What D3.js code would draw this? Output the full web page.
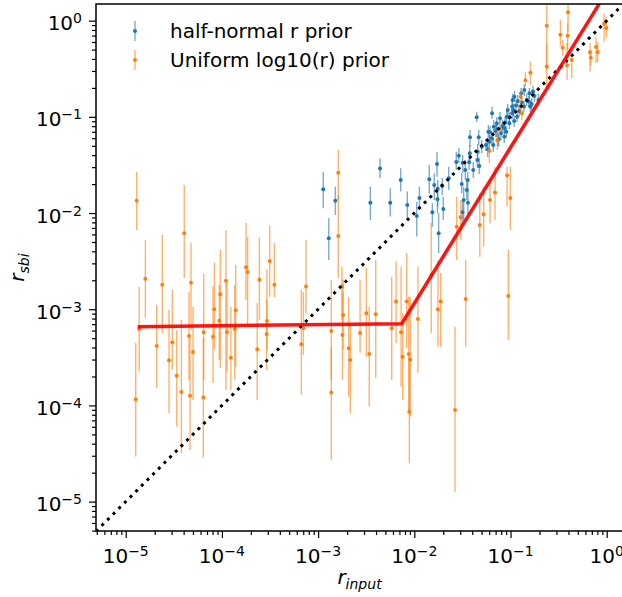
<!DOCTYPE html>
<html>
<head>
<meta charset="utf-8">
<script src="https://cdn.jsdelivr.net/npm/d3@7"></script>
<style>
  body { margin: 0; background: #fff; }
  svg { display: block; font-family: "DejaVu Sans", sans-serif; }
</style>
</head>
<body>
<div id="chart"></div>
<script>
'use strict';

// rows are [r_input, r_sbi, lower, upper]
const halfNormalRows = [
  [1.13e-3, 1.77e-2, 1.12e-2, 2.69e-2], [1.51e-3, 1.34e-2, 9.55e-3, 1.88e-2], [1.29e-3, 5.47e-3, 3.25e-3, 8.83e-3],
  [4.40e-3, 2.90e-2, 2.30e-2, 3.71e-2], [3.49e-3, 1.28e-2, 8.48e-3, 1.88e-2], [5.62e-3, 1.28e-2, 9.18e-3, 1.81e-2],
  [7.22e-3, 2.21e-2, 1.67e-2, 2.92e-2], [8.45e-3, 1.21e-2, 8.48e-3, 1.67e-2], [1.06e-2, 9.33e-3, 5.69e-3, 1.31e-2],
  [1.13e-2, 1.43e-2, 1.08e-2, 1.88e-2], [1.43e-2, 2.25e-2, 1.61e-2, 3.16e-2], [1.54e-2, 1.02e-2, 7.22e-3, 1.27e-2],
  [1.61e-2, 1.96e-2, 1.37e-2, 2.59e-2], [1.72e-2, 3.24e-2, 2.39e-2, 4.35e-2], [1.75e-2, 1.79e-2, 1.17e-2, 2.21e-2],
  [1.74e-2, 1.39e-2, 9.95e-3, 1.88e-2], [1.79e-2, 6.17e-3, 3.82e-3, 9.95e-3], [2.00e-2, 1.10e-2, 8.48e-3, 1.48e-2],
  [1.95e-2, 1.91e-2, 1.54e-2, 2.32e-2], [2.28e-2, 2.30e-2, 1.74e-2, 3.03e-2], [2.73e-2, 3.40e-2, 2.81e-2, 4.35e-2],
  [3.18e-2, 3.34e-2, 2.59e-2, 4.02e-2], [3.11e-2, 2.00e-2, 1.61e-2, 2.59e-2], [3.26e-2, 1.37e-2, 8.48e-3, 1.88e-2],
  [3.51e-2, 1.74e-2, 1.37e-2, 2.21e-2], [3.39e-2, 2.81e-2, 2.21e-2, 3.56e-2], [3.59e-2, 2.21e-2, 1.74e-2, 2.67e-2],
  [3.79e-2, 6.14e-2, 4.90e-2, 7.31e-2], [3.77e-2, 4.19e-2, 3.40e-2, 5.11e-2], [4.10e-2, 2.81e-2, 2.32e-2, 3.40e-2],
  [4.45e-2, 9.90e-2, 8.91e-2, 0.113], [4.56e-2, 4.35e-2, 3.56e-2, 5.23e-2], [4.52e-2, 3.56e-2, 2.94e-2, 4.32e-2],
  [4.74e-2, 3.09e-2, 2.55e-2, 3.74e-2], [5.79e-2, 4.61e-2, 3.83e-2, 5.48e-2], [5.88e-2, 7.02e-2, 6.04e-2, 8.24e-2],
  [6.43e-2, 0.109, 9.51e-2, 0.127], [6.62e-2, 5.11e-2, 4.32e-2, 6.04e-2], [6.38e-2, 6.00e-2, 5.11e-2, 7.13e-2],
  [7.19e-2, 7.31e-2, 6.18e-2, 8.65e-2], [2.90e-2, 3.95e-2, 3.32e-2, 4.75e-2], [3.16e-2, 1.02e-2, 7.35e-3, 1.37e-2],
  [3.61e-2, 1.28e-2, 9.55e-3, 1.74e-2], [3.71e-2, 3.37e-2, 2.81e-2, 4.11e-2], [4.67e-2, 6.14e-2, 5.11e-2, 7.31e-2],
  [5.02e-2, 4.90e-2, 4.21e-2, 5.75e-2], [6.12e-2, 6.92e-2, 5.89e-2, 8.04e-2], [7.02e-2, 7.13e-2, 6.18e-2, 8.24e-2],
  [7.54e-2, 5.85e-2, 4.90e-2, 6.80e-2], [8.22e-2, 8.04e-2, 6.97e-2, 9.29e-2], [8.77e-2, 8.71e-2, 7.48e-2, 9.98e-2],
  [7.96e-2, 6.76e-2, 5.75e-2, 7.85e-2], [9.04e-2, 7.02e-2, 6.04e-2, 8.04e-2], [9.72e-2, 9.90e-2, 8.65e-2, 0.112],
  [0.104, 0.109, 9.51e-2, 0.124], [0.109, 9.06e-2, 7.85e-2, 0.105], [0.117, 0.100, 8.85e-2, 0.115],
  [0.114, 0.131, 0.115, 0.150], [0.123, 0.115, 0.100, 0.133], [0.131, 0.141, 0.124, 0.161],
  [0.138, 0.128, 0.112, 0.146], [0.155, 0.144, 0.127, 0.165], [0.166, 0.136, 0.118, 0.157],
  [0.104, 0.128, 0.112, 0.146], [7.78e-2, 9.67e-2, 8.43e-2, 0.112], [7.19e-2, 8.58e-2, 7.31e-2, 9.98e-2],
  [9.35e-2, 0.118, 0.102, 0.136], [0.105, 0.150, 0.130, 0.173], [0.119, 0.146, 0.127, 0.169],
  [0.129, 0.176, 0.153, 0.200], [0.139, 0.190, 0.165, 0.220], [0.157, 0.176, 0.153, 0.200],
  [9.72e-2, 8.58e-2, 7.48e-2, 9.98e-2], [8.62e-2, 7.61e-2, 6.64e-2, 8.85e-2], [6.69e-2, 7.91e-2, 6.80e-2, 9.29e-2],
  [6.02e-2, 5.52e-2, 4.75e-2, 6.48e-2], [5.56e-2, 5.11e-2, 4.42e-2, 5.89e-2], [7.36e-2, 5.75e-2, 4.98e-2, 6.64e-2],
  [8.62e-2, 6.22e-2, 5.35e-2, 7.31e-2], [0.177, 0.165, 0.143, 0.190], [0.171, 0.183, 0.161, 0.210],
  [0.110, 0.162, 0.143, 0.186], [9.13e-2, 0.100, 8.85e-2, 0.115], [0.195, 0.150, 0.130, 0.173],
  [0.147, 0.150, 0.130, 0.173], [0.160, 0.128, 0.112, 0.146], [0.107, 0.118, 0.102, 0.136]
];

const uniformLogRows = [
  [1.30e-5, 1.34e-2, 6.67e-3, 2.69e-2], [1.27e-5, 1.16e-4, 2.94e-5, 4.47e-4], [1.38e-5, 6.24e-4, 2.25e-4, 1.71e-3],
  [1.60e-5, 2.07e-3, 8.12e-4, 5.25e-3], [2.40e-5, 1.80e-3, 5.67e-4, 5.92e-3], [2.10e-5, 4.16e-4, 1.52e-4, 1.11e-3],
  [3.05e-5, 4.54e-4, 2.34e-4, 1.59e-3], [2.82e-5, 2.95e-4, 8.36e-5, 9.84e-4], [3.39e-5, 2.04e-4, 6.02e-5, 6.09e-4],
  [3.79e-5, 1.38e-4, 3.21e-5, 7.74e-4], [4.06e-5, 6.17e-3, 2.11e-3, 1.96e-2], [4.77e-5, 1.89e-3, 6.09e-4, 4.92e-3],
  [4.55e-5, 5.28e-4, 1.84e-4, 1.52e-3], [4.66e-5, 1.26e-4, 3.45e-5, 5.03e-4], [5.01e-5, 3.60e-4, 1.14e-4, 1.06e-3],
  [6.41e-5, 1.21e-4, 2.85e-5, 5.03e-4], [6.47e-5, 5.77e-4, 1.84e-4, 2.33e-3], [8.08e-5, 5.19e-4, 1.71e-4, 1.72e-3],
  [8.34e-5, 1.00e-3, 3.78e-4, 3.05e-3], [9.62e-5, 1.43e-3, 2.45e-4, 4.13e-3], [9.40e-5, 7.60e-4, 2.97e-4, 1.79e-3],
  [1.10e-4, 1.98e-3, 1.45e-4, 6.67e-3], [1.13e-4, 5.81e-4, 2.18e-4, 2.02e-3], [1.24e-4, 3.14e-4, 1.45e-4, 1.06e-3],
  [1.36e-4, 6.24e-4, 1.84e-4, 1.79e-3], [1.39e-4, 9.77e-4, 2.53e-4, 2.88e-3], [1.78e-4, 2.73e-3, 1.25e-3, 7.89e-3],
  [1.85e-4, 2.44e-3, 6.87e-4, 5.65e-3], [2.45e-4, 2.02e-3, 7.74e-4, 5.51e-3], [2.33e-4, 3.84e-4, 1.14e-4, 1.16e-3],
  [3.14e-4, 3.18e-3, 1.35e-3, 7.35e-3], [3.51e-4, 1.80e-3, 1.34e-3, 4.89e-3], [2.94e-4, 7.55e-4, 3.78e-4, 2.60e-3],
  [2.92e-4, 5.54e-4, 2.34e-4, 1.25e-3], [7.48e-4, 1.72e-3, 9.16e-4, 5.25e-3], [6.69e-4, 4.33e-4, 1.29e-4, 1.59e-3],
  [7.02e-4, 6.34e-4, 3.35e-4, 1.51e-3], [1.37e-3, 5.94e-4, 1.84e-4, 2.02e-3], [1.37e-3, 1.36e-4, 2.71e-5, 4.08e-4],
  [1.77e-3, 1.73e-3, 7.74e-4, 2.77e-3], [1.82e-3, 8.72e-4, 3.78e-4, 2.02e-3], [1.79e-3, 5.41e-4, 1.84e-4, 1.48e-3],
  [2.08e-3, 3.93e-4, 1.23e-4, 1.35e-3], [2.16e-3, 2.97e-4, 8.30e-5, 7.21e-4], [2.73e-3, 5.67e-4, 3.52e-4, 2.02e-3],
  [3.17e-3, 9.08e-4, 3.21e-4, 2.69e-3], [3.40e-3, 3.43e-4, 9.72e-5, 1.06e-3], [3.97e-3, 8.87e-4, 1.93e-4, 3.25e-3],
  [5.82e-3, 6.34e-4, 1.84e-4, 2.17e-3], [6.46e-3, 1.20e-3, 4.47e-4, 3.13e-3], [7.28e-3, 5.77e-4, 1.57e-4, 2.77e-3],
  [7.57e-3, 3.21e-4, 1.14e-4, 9.16e-4], [8.34e-3, 1.20e-3, 3.96e-4, 3.85e-3], [8.75e-3, 3.43e-4, 8.36e-5, 1.35e-3],
  [9.08e-3, 2.99e-4, 7.65e-5, 1.35e-3], [8.87e-3, 8.61e-5, 2.51e-5, 3.21e-4], [1.09e-2, 7.93e-4, 2.18e-4, 2.77e-3],
  [1.50e-2, 2.27e-3, 5.67e-4, 7.89e-3], [1.76e-2, 1.00e-3, 4.08e-4, 3.25e-3], [1.88e-2, 1.20e-3, 4.08e-4, 2.38e-3],
  [2.65e-2, 8.97e-5, 1.27e-5, 6.59e-4], [3.42e-2, 1.28e-3, 4.08e-4, 3.25e-3], [9.49e-2, 1.37e-3, 4.80e-4, 4.13e-3],
  [6.02e-2, 4.45e-2, 3.32e-2, 4.90e-2], [7.29e-2, 5.75e-2, 4.53e-2, 7.31e-2], [6.12e-2, 1.37e-2, 7.83e-3, 2.21e-2],
  [6.90e-2, 1.64e-2, 8.48e-3, 3.03e-2], [5.26e-2, 9.72e-3, 4.48e-3, 1.88e-2], [4.79e-2, 7.52e-3, 3.52e-3, 1.62e-2],
  [3.03e-2, 9.04e-3, 5.25e-3, 1.37e-2], [2.76e-2, 7.22e-3, 3.25e-3, 1.48e-2], [9.20e-2, 2.47e-2, 1.17e-2, 3.03e-2],
  [9.95e-2, 1.43e-2, 6.67e-3, 3.03e-2], [1.62e-3, 2.63e-2, 1.37e-2, 4.53e-2], [1.62e-3, 5.78e-3, 2.11e-3, 1.54e-2],
  [0.238, 0.887, 0.307, 1.46], [0.238, 0.333, 0.206, 0.586], [0.161, 0.288, 0.215, 0.375],
  [0.143, 0.240, 0.206, 0.295], [0.128, 0.162, 0.141, 0.187], [0.126, 0.128, 0.111, 0.147],
  [0.131, 0.109, 0.0929, 0.130], [0.0765, 0.0754, 0.0618, 0.0929], [0.396, 1.22, 0.769, 1.46],
  [0.330, 0.715, 0.537, 1.02], [0.393, 0.698, 0.496, 0.946], [0.349, 0.524, 0.430, 0.630],
  [0.433, 0.390, 0.254, 0.440], [0.387, 0.344, 0.242, 0.586], [0.670, 0.470, 0.295, 0.586],
  [0.682, 0.412, 0.338, 0.496], [0.774, 0.533, 0.363, 0.682], [0.806, 0.473, 0.372, 0.601],
  [0.938, 0.931, 0.605, 1.19], [0.990, 0.839, 0.661, 1.07]
];

// broken power-law fit (red) and the 1:1 line
const fitX = [1.33e-5, 7.4e-3, 1.0];
const fitY = [6.59e-4, 7.08e-4, 2.0];
const oneToOne = [4.9e-6, 1.5];

const tickExponents = [-5, -4, -3, -2, -1, 0];
const seriesNames = ['half-normal r prior', 'Uniform log10(r) prior'];
const seriesColors = ['#1f77b4', '#ff7f0e'];

const width = 622, height = 597;
const plot = {left: 96, right: 623, top: 4, bottom: 531};

const x = d3.scaleLog().domain([4.91e-6, 1.476]).range([plot.left, plot.right]);
const y = d3.scaleLog().domain([4.95e-6, 1.49]).range([plot.bottom, plot.top]);

const svg = d3.select('#chart').append('svg')
  .attr('width', width)
  .attr('height', height);

svg.append('rect').attr('width', width).attr('height', height).attr('fill', '#fff');

svg.append('clipPath').attr('id', 'clip')
  .append('rect')
  .attr('x', plot.left).attr('y', plot.top)
  .attr('width', plot.right - plot.left).attr('height', plot.bottom - plot.top);

const body = svg.append('g').attr('clip-path', 'url(#clip)');

function drawSeries(rows, color) {
  const g = body.append('g');
  g.selectAll('line')
    .data(rows)
    .enter().append('line')
    .attr('x1', d => x(d[0])).attr('x2', d => x(d[0]))
    .attr('y1', d => y(d[2])).attr('y2', d => y(d[3]))
    .attr('stroke', color)
    .attr('stroke-width', 1.4)
    .attr('stroke-opacity', 0.6);
  g.selectAll('circle')
    .data(rows)
    .enter().append('circle')
    .attr('cx', d => x(d[0]))
    .attr('cy', d => y(d[1]))
    .attr('r', 2)
    .attr('fill', color);
}

drawSeries(halfNormalRows, seriesColors[0]);
drawSeries(uniformLogRows, seriesColors[1]);

// dotted 1:1 line
body.append('line')
  .attr('x1', x(oneToOne[0])).attr('y1', y(oneToOne[0]))
  .attr('x2', x(oneToOne[1])).attr('y2', y(oneToOne[1]))
  .attr('stroke', '#000')
  .attr('stroke-width', 3)
  .attr('stroke-dasharray', '3 5');

// red fit
const fitLine = d3.line().x(d => x(d[0])).y(d => y(d[1]));
body.append('path')
  .datum(fitX.map((v, i) => [v, fitY[i]]))
  .attr('d', fitLine)
  .attr('fill', 'none')
  .attr('stroke', '#ff0000')
  .attr('stroke-width', 3.5)
  .attr('stroke-opacity', 0.92);

// axes
const majors = tickExponents.map(e => Math.pow(10, e));
const isMajor = v => Math.abs(Math.log10(v) - Math.round(Math.log10(v))) < 1e-9;

function styleAxis(g) {
  g.select('.domain').remove();
  g.selectAll('line').attr('stroke', '#000').attr('stroke-width', 1.2);
}

svg.append('g').attr('transform', `translate(0,${plot.bottom})`)
  .call(d3.axisBottom(x).tickValues(x.ticks().filter(v => !isMajor(v))).tickSize(4).tickFormat(''))
  .call(styleAxis);
svg.append('g').attr('transform', `translate(0,${plot.bottom})`)
  .call(d3.axisBottom(x).tickValues(majors).tickSize(7).tickFormat(''))
  .call(styleAxis);
svg.append('g').attr('transform', `translate(${plot.left},0)`)
  .call(d3.axisLeft(y).tickValues(y.ticks().filter(v => !isMajor(v))).tickSize(4).tickFormat(''))
  .call(styleAxis);
svg.append('g').attr('transform', `translate(${plot.left},0)`)
  .call(d3.axisLeft(y).tickValues(majors).tickSize(7).tickFormat(''))
  .call(styleAxis);

// spines
svg.append('path')
  .attr('d', `M${plot.right},${plot.top}H${plot.left}V${plot.bottom}H${plot.right}`)
  .attr('fill', 'none')
  .attr('stroke', '#000')
  .attr('stroke-width', 1.5);

function powerLabel(sel, e) {
  sel.append('tspan').text('10');
  sel.append('tspan')
    .attr('dy', -7)
    .attr('font-size', 14)
    .text(e < 0 ? '\u2212' + (-e) : String(e));
}

tickExponents.forEach(e => {
  svg.append('text')
    .attr('x', x(Math.pow(10, e)))
    .attr('y', plot.bottom + 32)
    .attr('text-anchor', 'middle')
    .attr('font-size', 20)
    .attr('fill', '#000')
    .call(powerLabel, e);
  svg.append('text')
    .attr('x', plot.left - 14)
    .attr('y', y(Math.pow(10, e)) + 9.5)
    .attr('text-anchor', 'end')
    .attr('font-size', 20)
    .attr('fill', '#000')
    .call(powerLabel, e);
});

// axis titles
const xTitle = svg.append('text')
  .attr('x', (plot.left + plot.right) / 2)
  .attr('y', 584)
  .attr('text-anchor', 'middle')
  .attr('font-size', 20)
  .attr('font-style', 'italic');
xTitle.append('tspan').text('r');
xTitle.append('tspan').attr('dy', 5).attr('font-size', 14).text('input');

const yTitle = svg.append('text')
  .attr('transform', `translate(24,${(plot.top + plot.bottom) / 2}) rotate(-90)`)
  .attr('text-anchor', 'middle')
  .attr('font-size', 20)
  .attr('font-style', 'italic');
yTitle.append('tspan').text('r');
yTitle.append('tspan').attr('dy', 5).attr('font-size', 14).text('sbi');

// legend
const legend = svg.append('g');
seriesNames.forEach((name, i) => {
  const cy = 31 + i * 29;
  legend.append('line')
    .attr('x1', 135).attr('x2', 135)
    .attr('y1', cy - 10).attr('y2', cy + 10)
    .attr('stroke', seriesColors[i])
    .attr('stroke-width', 1.4)
    .attr('stroke-opacity', 0.6);
  legend.append('circle')
    .attr('cx', 135).attr('cy', cy).attr('r', 2)
    .attr('fill', seriesColors[i]);
  legend.append('text')
    .attr('x', 170)
    .attr('y', cy + 7)
    .attr('font-size', 20)
    .attr('fill', '#000')
    .text(name);
});
</script>
</body>
</html>
